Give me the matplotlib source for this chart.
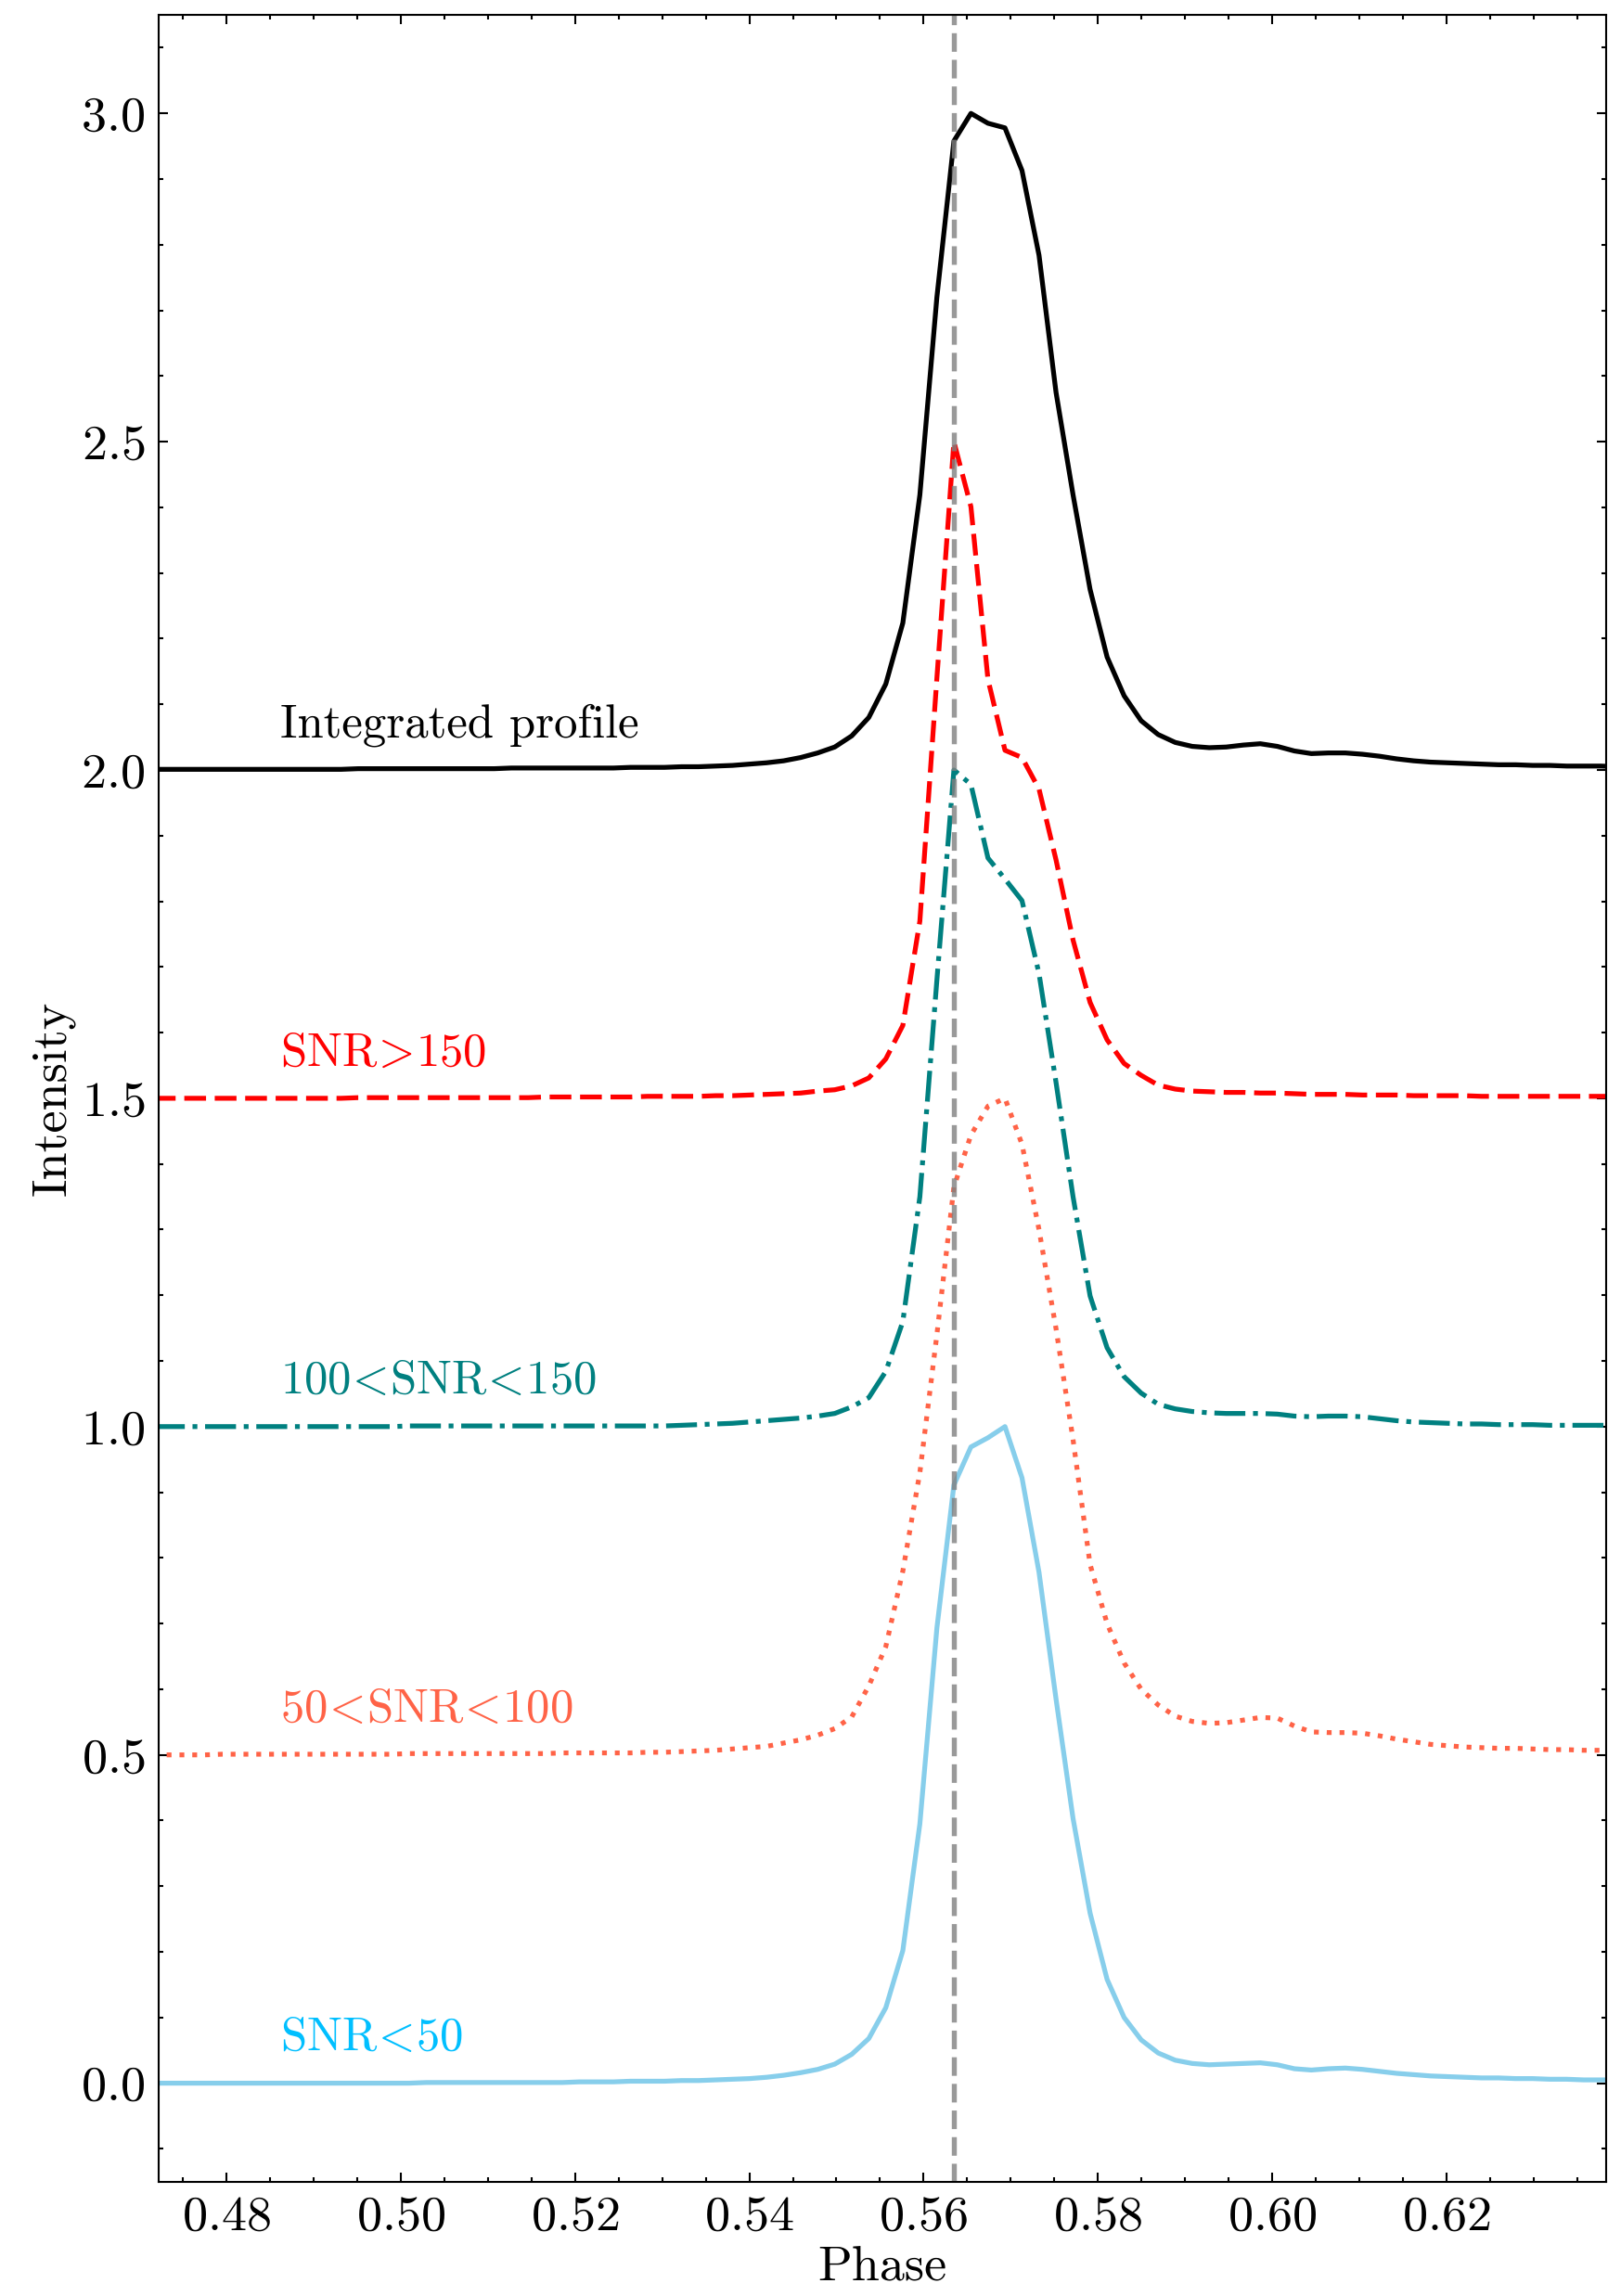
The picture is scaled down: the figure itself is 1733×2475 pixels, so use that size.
import numpy as np
import matplotlib
matplotlib.use("Agg")
import matplotlib.pyplot as plt
from matplotlib.ticker import MultipleLocator

plt.rcParams['font.family'] = 'serif'
plt.rcParams['font.serif'] = ['cmr10']
plt.rcParams['mathtext.fontset'] = 'cm'
plt.rcParams['axes.formatter.use_mathtext'] = True
plt.rcParams['axes.unicode_minus'] = False

# phase bins (512 bins per rotation), bins 241..327
phase = (np.arange(241, 328) + 0.5) / 512
ref_phase = 288.5 / 512

# normalised profiles (peak = 1), bins 241..327
integrated = [
    0.001, 0.001, 0.001, 0.001, 0.001, 0.001, 0.001, 0.001, 0.001, 0.001, 0.001, 0.001,
    0.002, 0.002, 0.002, 0.002, 0.002, 0.002, 0.002, 0.002, 0.002,
    0.003, 0.003, 0.003, 0.003, 0.003, 0.003, 0.003,
    0.004, 0.004, 0.004, 0.005, 0.005, 0.006, 0.007, 0.009, 0.011, 0.014,
    0.019, 0.026, 0.035, 0.052, 0.080, 0.131, 0.224, 0.419, 0.720,
    0.958, 1.000, 0.985, 0.978, 0.913, 0.784, 0.575, 0.419, 0.275, 0.172,
    0.113, 0.075, 0.054, 0.042, 0.036, 0.034, 0.035, 0.038, 0.040, 0.036,
    0.029, 0.025, 0.026, 0.026, 0.024, 0.021, 0.017, 0.014, 0.012, 0.011,
    0.010, 0.009, 0.008, 0.008, 0.007, 0.007, 0.006, 0.006, 0.006, 0.005,
]
snr_gt150 = [
    0.000, 0.000, 0.000, 0.000, 0.000, 0.000, 0.000, 0.000, 0.000, 0.000, 0.000, 0.000,
    0.001, 0.001, 0.001, 0.001, 0.001, 0.001, 0.001, 0.001, 0.001,
    0.001, 0.001, 0.002, 0.002, 0.002, 0.002, 0.002,
    0.002, 0.003, 0.003, 0.003, 0.003, 0.004, 0.004, 0.005, 0.006, 0.007,
    0.008, 0.011, 0.013, 0.019, 0.031, 0.060, 0.111, 0.270, 0.640,
    1.000, 0.901, 0.638, 0.530, 0.519, 0.471, 0.363, 0.241, 0.146, 0.089,
    0.053, 0.035, 0.020, 0.014, 0.011, 0.010, 0.009, 0.009, 0.008, 0.008,
    0.007, 0.006, 0.006, 0.006, 0.005, 0.005, 0.005, 0.004, 0.004, 0.004,
    0.004, 0.003, 0.003, 0.003, 0.003, 0.003, 0.003, 0.003, 0.003, 0.003,
]
snr_100_150 = [
    0.000, 0.000, 0.000, 0.000, 0.000, 0.000, 0.000, 0.000, 0.000, 0.000, 0.000, 0.000,
    0.000, 0.000, 0.000, 0.001, 0.001, 0.001, 0.001, 0.001, 0.001,
    0.001, 0.001, 0.001, 0.001, 0.001, 0.001, 0.001,
    0.001, 0.001, 0.001, 0.002, 0.003, 0.004, 0.005, 0.007, 0.009, 0.011,
    0.013, 0.016, 0.020, 0.030, 0.044, 0.084, 0.160, 0.350, 0.680,
    1.000, 0.978, 0.866, 0.834, 0.801, 0.690, 0.524, 0.350, 0.199, 0.120,
    0.076, 0.051, 0.034, 0.027, 0.023, 0.021, 0.020, 0.020, 0.020, 0.019,
    0.016, 0.015, 0.016, 0.016, 0.015, 0.012, 0.009, 0.007, 0.006, 0.005,
    0.004, 0.004, 0.003, 0.003, 0.003, 0.002, 0.002, 0.002, 0.002, 0.002,
]
snr_50_100 = [
    0.000, 0.000, 0.000, 0.000, 0.001, 0.001, 0.001, 0.001, 0.001, 0.001, 0.001, 0.001,
    0.001, 0.001, 0.001, 0.002, 0.002, 0.002, 0.002, 0.002, 0.002,
    0.002, 0.002, 0.002, 0.003, 0.003, 0.003, 0.003,
    0.003, 0.004, 0.004, 0.005, 0.006, 0.007, 0.009, 0.011, 0.013, 0.018,
    0.023, 0.030, 0.040, 0.058, 0.105, 0.165, 0.280, 0.430, 0.640,
    0.865, 0.944, 0.988, 1.000, 0.930, 0.800, 0.649, 0.480, 0.290, 0.200,
    0.140, 0.100, 0.076, 0.059, 0.051, 0.048, 0.049, 0.053, 0.057, 0.056,
    0.044, 0.035, 0.034, 0.034, 0.033, 0.029, 0.024, 0.020, 0.016, 0.014,
    0.012, 0.011, 0.010, 0.010, 0.009, 0.008, 0.008, 0.007, 0.007, 0.007,
]
snr_lt50 = [
    0.000, 0.000, 0.000, 0.000, 0.000, 0.000, 0.000, 0.000, 0.000, 0.000, 0.000, 0.000,
    0.000, 0.000, 0.000, 0.000, 0.001, 0.001, 0.001, 0.001, 0.001,
    0.001, 0.001, 0.001, 0.001, 0.002, 0.002, 0.002,
    0.003, 0.003, 0.003, 0.004, 0.004, 0.005, 0.006, 0.007, 0.009, 0.012,
    0.016, 0.021, 0.029, 0.044, 0.068, 0.115, 0.202, 0.395, 0.693,
    0.911, 0.969, 0.983, 1.000, 0.922, 0.778, 0.585, 0.403, 0.259, 0.158,
    0.100, 0.066, 0.046, 0.035, 0.030, 0.028, 0.029, 0.030, 0.031, 0.028,
    0.022, 0.020, 0.022, 0.023, 0.021, 0.018, 0.015, 0.013, 0.011, 0.010,
    0.009, 0.008, 0.008, 0.007, 0.007, 0.006, 0.006, 0.005, 0.005, 0.005,
]

profiles = [integrated, snr_gt150, snr_100_150, snr_50_100, snr_lt50]
offsets = [2.0, 1.5, 1.0, 0.5, 0.0]
labels = ['Integrated profile', r'SNR$\!>\!$150', r'100$\!<\!$SNR$\!<\!$150',
          r'50$\!<\!$SNR$\!<\!$100', r'SNR$\!<\!$50']
line_colors = ['black', 'red', 'teal', 'tomato', 'skyblue']
text_colors = ['black', 'red', 'teal', 'tomato', 'deepskyblue']
styles = ['-', (0, (4.5, 1.8)), '-.', ':', '-']

fig = plt.figure(figsize=(1733 / 300, 2475 / 300), dpi=300)
ax = fig.add_axes([0.0985, 0.0498, 0.9006, 0.9437])

for prof, off, lab, lc, tc, ls in zip(profiles, offsets, labels,
                                      line_colors, text_colors, styles):
    ax.plot(phase, np.array(prof) + off, color=lc, ls=ls, lw=1.25)
    ax.text(0.4862, off + 0.05, lab, color=tc, fontsize=12.2, va='baseline')

ax.axvline(ref_phase, color='gray', ls='--', lw=1.3, alpha=0.8)

ax.set_xlim(0.4722, 0.63836)
ax.set_ylim(-0.15, 3.15)
ax.xaxis.set_major_locator(MultipleLocator(0.02))
ax.xaxis.set_minor_locator(MultipleLocator(0.005))
ax.yaxis.set_major_locator(MultipleLocator(0.5))
ax.yaxis.set_minor_locator(MultipleLocator(0.1))
ax.tick_params(which='both', direction='in', top=True, right=True,
               labelsize=13, width=0.5, pad=3.5)
ax.tick_params(which='major', length=2.4)
ax.tick_params(which='minor', length=1.2)
for sp in ax.spines.values():
    sp.set_linewidth(0.5)

ax.set_xlabel('Phase', fontsize=13, labelpad=2)
ax.set_ylabel('Intensity', fontsize=13, labelpad=1.5)

fig.savefig('out.png', dpi=300)
